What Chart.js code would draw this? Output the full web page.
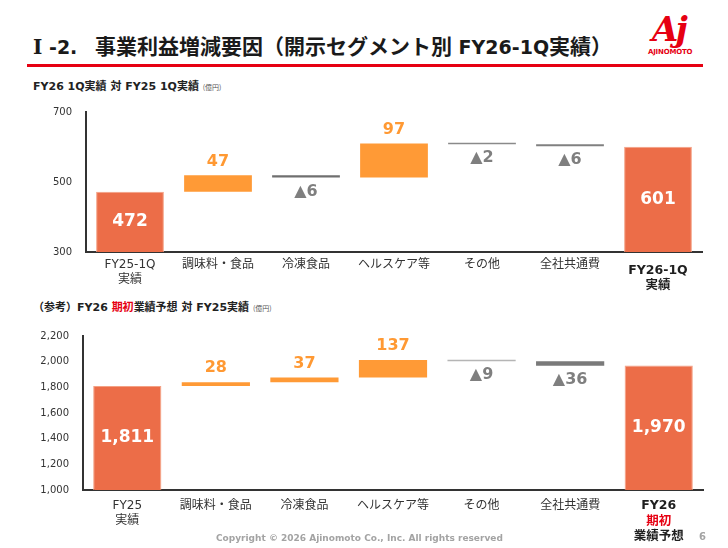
<!DOCTYPE html>
<html><head><meta charset="utf-8">
<script src="https://cdn.jsdelivr.net/npm/chart.js@4/dist/chart.umd.min.js"></script>
<style>
html,body{margin:0;padding:0;background:#fff;}
body{width:728px;height:548px;position:relative;overflow:hidden;font-family:"Noto Sans CJK JP","Noto Sans",sans-serif;}
.title{position:absolute;top:30px;font-family:"Noto Sans CJK JP",sans-serif;font-size:21px;font-weight:bold;color:#1a1a1a;white-space:nowrap;line-height:30px;}
.lat{font-family:"DejaVu Sans",sans-serif;font-size:19px;}
.ser{font-family:"DejaVu Serif",serif;font-size:20px;}
.rule{position:absolute;left:27px;top:64px;width:676px;height:3px;background:#E60012;}
.logoA{position:absolute;left:652px;top:9px;font-family:"DejaVu Serif",serif;font-style:italic;font-weight:bold;font-size:34px;color:#E60012;line-height:40px;letter-spacing:-3px;}
.logoT{position:absolute;left:648px;top:48px;font-family:"DejaVu Sans";font-weight:bold;font-size:7px;color:#E60012;line-height:9px;letter-spacing:-0.2px;}
.sub{position:absolute;left:33px;font-family:"DejaVu Sans","Noto Sans CJK JP",sans-serif;font-size:11px;font-weight:bold;color:#222;white-space:nowrap;line-height:16px;}
.unit{font-family:"Noto Sans CJK JP";font-size:7px;color:#555;font-weight:normal;}
.red{color:#E60012;}
.wrap{position:absolute;left:0;width:728px;}
#w1{top:100px;height:195px;}
#w2{top:325px;height:223px;}
.copy{position:absolute;left:216px;top:532px;font-family:"DejaVu Sans";font-weight:bold;font-size:9px;color:#a3a3a3;white-space:nowrap;line-height:12px;}
.page{position:absolute;left:699px;top:531px;font-family:"DejaVu Sans";font-weight:bold;font-size:10px;color:#a3a3a3;line-height:12px;}
</style></head>
<body>
<div class="title" style="left:33px;"><span class="ser">Ⅰ</span></div>
<div class="title" style="left:49px;"><span class="lat">-2.</span></div>
<div class="title" style="left:95px;">事業利益増減要因（開示セグメント別<span class="lat"> FY26-1Q</span>実績）</div>
<div class="rule"></div>
<div class="logoA">Aj</div>
<div class="logoT">AJINOMOTO</div>
<div class="sub" style="top:79px;">FY26 1Q実績 対 FY25 1Q実績 <span class="unit">(億円)</span></div>
<div class="sub" style="top:300px;">（参考）FY26 <span class="red">期初</span>業績予想 対 FY25実績 <span class="unit">(億円)</span></div>
<div class="wrap" id="w1"><canvas id="c1"></canvas></div>
<div class="wrap" id="w2"><canvas id="c2"></canvas></div>
<div class="copy">Copyright © 2026 Ajinomoto Co., Inc. All rights reserved</div>
<div class="page">6</div>
<script>
// ---- data ----
const topCategories = [['FY25-1Q','実績'],'調味料・食品','冷凍食品','ヘルスケア等','その他','全社共通費',['FY26-1Q','実績']];
const topStart = 472;
const topDeltas = [47, -6, 97, -2, -6];
const topEnd = 601;
const topTicks = [300, 500, 700];

const botCategories = [['FY25','実績'],'調味料・食品','冷凍食品','ヘルスケア等','その他','全社共通費',['FY26','期初','業績予想']];
const botStart = 1811;
const botDeltas = [28, 37, 137, -9, -36];
const botEnd = 1970;
const botTicks = [1000, 1200, 1400, 1600, 1800, 2000, 2200];

// ---- helpers ----
const TOTAL = '#EC6D48', UP = '#FF9A36';
function waterfall(start, deltas, end){
  const d = [[0, start]]; let c = start;
  deltas.forEach(v => { d.push([c, c + v]); c += v; });
  d.push([0, end]);
  return d;
}
function fmt(v){ return Math.abs(v).toLocaleString('en-US'); }
function texts(start, deltas, end){
  return [fmt(start)].concat(deltas.map(v => v < 0 ? '▲' + fmt(v) : fmt(v))).concat([fmt(end)]);
}
function kinds(deltas){
  return ['total'].concat(deltas.map(v => v < 0 ? 'down' : 'up')).concat(['total']);
}

const wfLabels = {
  id: 'wfLabels',
  afterDatasetsDraw(chart, args, o){
    const ctx = chart.ctx, ca = chart.chartArea;
    const meta = chart.getDatasetMeta(0);
    ctx.save();
    ctx.textAlign = 'center'; ctx.textBaseline = 'middle';
    meta.data.forEach((bar, i) => {
      const top = Math.max(ca.top, Math.min(bar.y, bar.base));
      const bot = Math.min(ca.bottom, Math.max(bar.y, bar.base));
      const k = o.kinds[i], t = o.texts[i];
      if (k === 'total') {
        ctx.fillStyle = '#fff'; ctx.font = 'bold 17px "DejaVu Sans"';
        ctx.fillText(t, bar.x, (top + bot) / 2);
      } else if (k === 'up') {
        ctx.fillStyle = '#FF9933'; ctx.font = 'bold 16px "DejaVu Sans"';
        ctx.fillText(t, bar.x, top - 14);
      } else {
        ctx.fillStyle = '#7f7f7f'; ctx.font = 'bold 16px "DejaVu Sans"';
        ctx.fillText(t, bar.x, bot + 14);
      }
    });
    // custom last category label
    const xs = chart.scales.x;
    const n = chart.data.labels.length - 1;
    const x = xs.getPixelForValue(n);
    const lines = o.last.lines;
    ctx.font = 'bold 12.5px "DejaVu Sans", "Noto Sans CJK JP"';
    lines.forEach((ln, j) => {
      ctx.fillStyle = o.last.colors[j];
      ctx.fillText(ln, x, ca.bottom + o.last.offset + j * o.last.lh);
    });
    ctx.restore();
  }
};

function makeChart(id, cats, start, deltas, end, ticks, yW, padR, padT, xH, barColors, borderW, last){
  const last_i = cats.length - 1;
  return new Chart(document.getElementById(id), {
    type: 'bar',
    data: {
      labels: cats,
      datasets: [{
        data: waterfall(start, deltas, end),
        backgroundColor: barColors,
        borderColor: barColors.map((c, i) => (i === 0 || i === last_i) ? '#F4A184' : c),
        borderWidth: borderW,
        borderSkipped: false,
        minBarLength: 1.4,
        barPercentage: 0.77,
        categoryPercentage: 1
      }]
    },
    plugins: [wfLabels],
    options: {
      responsive: true, maintainAspectRatio: false, animation: false,
      layout: { padding: { left: 0, right: padR, top: padT, bottom: 0 } },
      plugins: {
        legend: { display: false }, tooltip: { enabled: false },
        wfLabels: { texts: texts(start, deltas, end), kinds: kinds(deltas), last: last }
      },
      scales: {
        x: {
          grid: { display: false, drawTicks: false },
          border: { display: true, color: '#333', width: 2 },
          ticks: {
            padding: last.tickPad, color: '#333', maxRotation: 0, autoSkip: false,
            font: { family: '"DejaVu Sans", "Noto Sans CJK JP"', size: 12, lineHeight: last.lh / 12 },
            callback: (v, i) => i === last_i ? '' : cats[i]
          },
          afterFit: s => { s.height = xH; }
        },
        y: {
          min: ticks[0], max: ticks[ticks.length - 1],
          afterBuildTicks: s => { s.ticks = ticks.map(v => ({ value: v })); },
          grid: { display: false, drawTicks: true, tickLength: 14 },
          border: { display: true, color: '#333', width: 2 },
          ticks: {
            padding: 0, color: '#333',
            font: { family: '"DejaVu Sans"', size: 10 },
            callback: v => v.toLocaleString('en-US')
          },
          afterFit: s => { s.width = yW; }
        }
      }
    }
  });
}

makeChart('c1', topCategories, topStart, topDeltas, topEnd, topTicks, 86, 26, 12, 43,
  [TOTAL, UP, '#6f6f6f', UP, '#8a8a8a', '#808080', TOTAL], [1,0,0,0,0,0,1],
  { lines: ['FY26-1Q', '実績'], colors: ['#1f1f1f', '#1f1f1f'], offset: 19, lh: 15, tickPad: 5 });

makeChart('c2', botCategories, botStart, botDeltas, botEnd, botTicks, 83, 25, 11, 58,
  [TOTAL, UP, UP, UP, '#b5b5b5', '#7a7a7a', TOTAL], [1,0,0,0,0,0,1],
  { lines: ['FY26', '期初', '業績予想'], colors: ['#1f1f1f', '#E60012', '#1f1f1f'], offset: 16, lh: 15.5, tickPad: 8 });
</script>
</body></html>
